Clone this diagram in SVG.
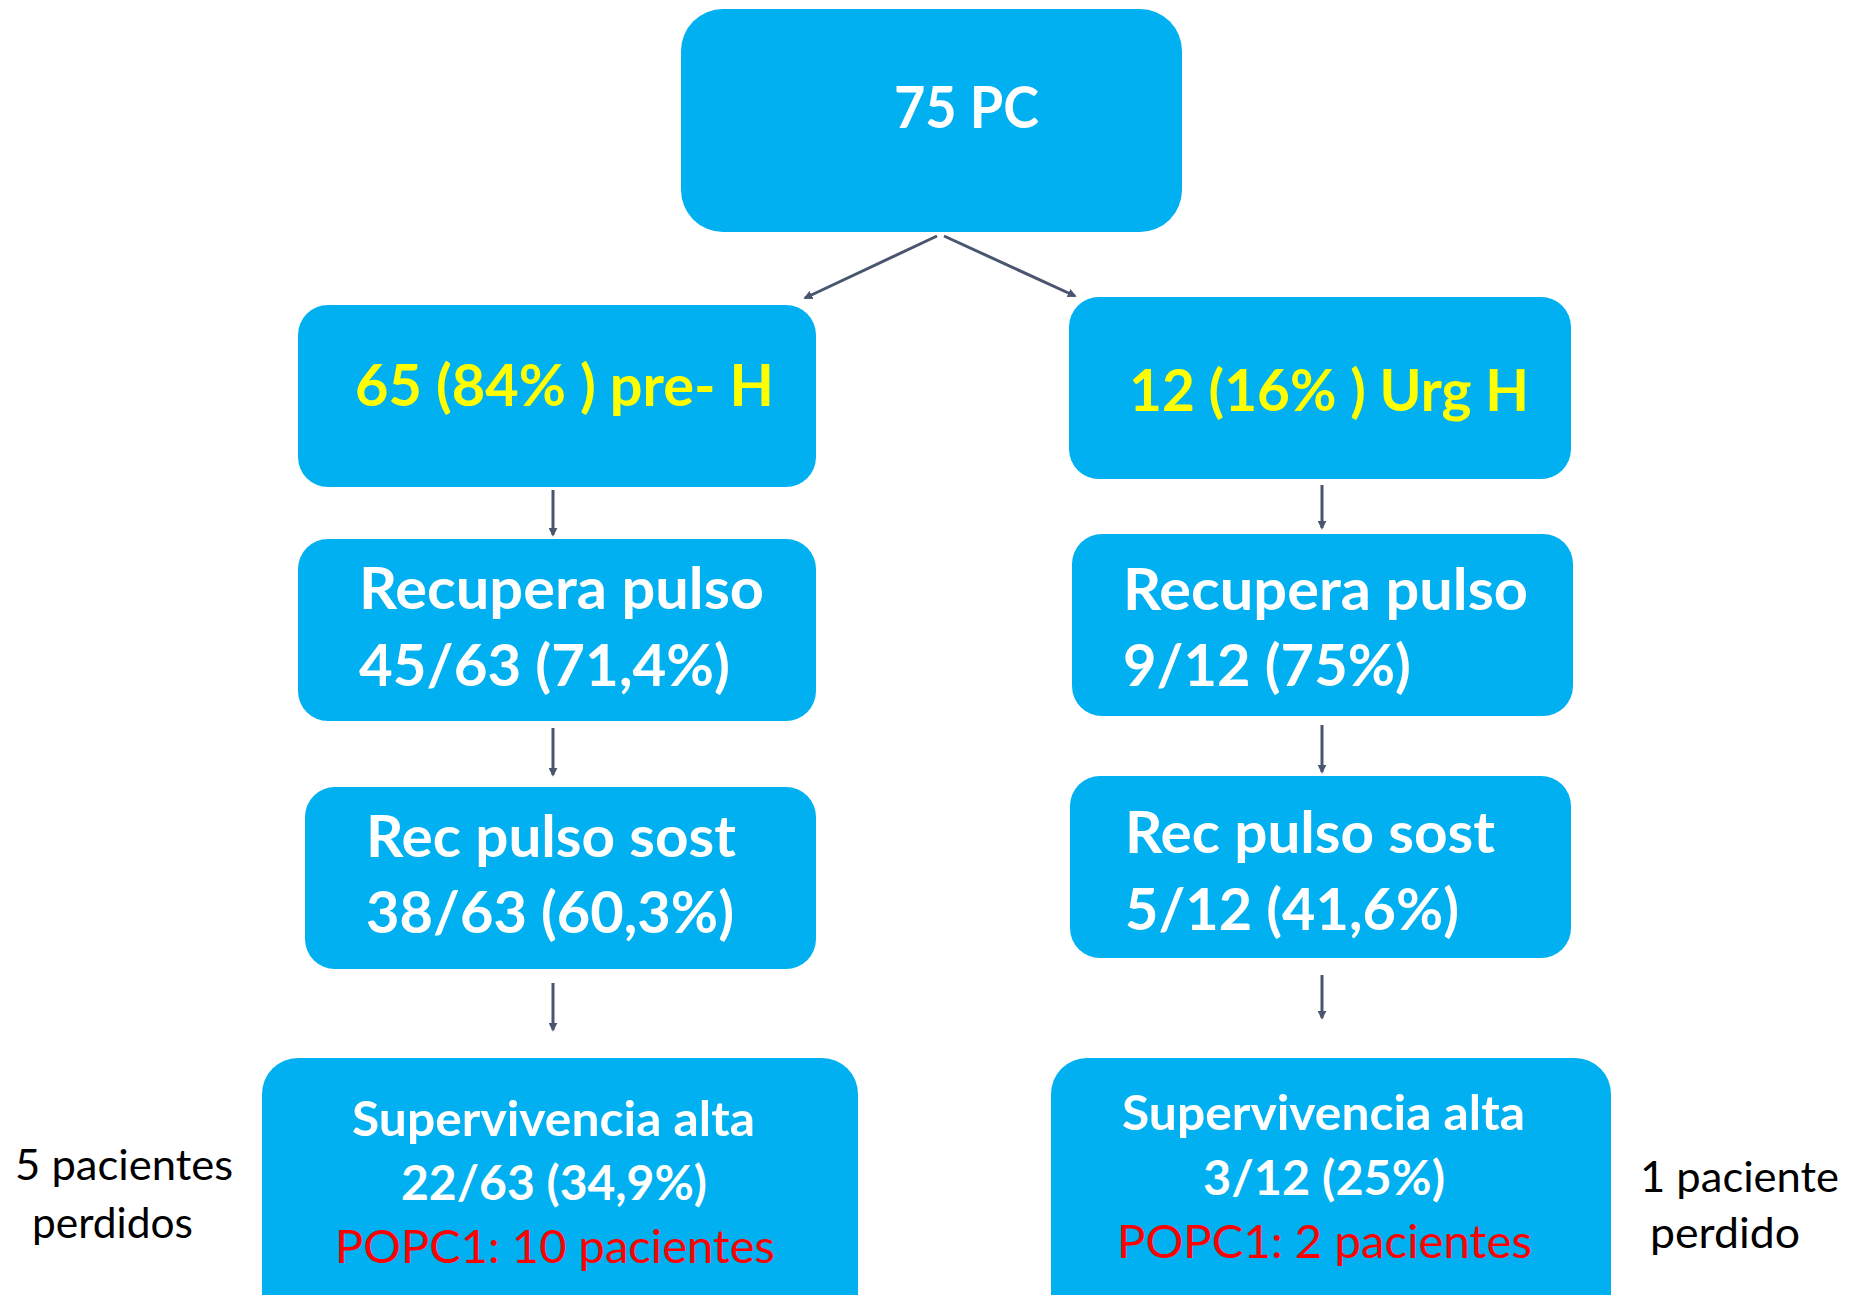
<svg xmlns="http://www.w3.org/2000/svg" width="1854" height="1295" viewBox="0 0 1854 1295">
<defs>
<style>
.box{fill:#00B0F0;}
.w{font-family:Lato,"Open Sans","Liberation Sans",sans-serif;font-weight:bold;fill:#FFFFFF;}
.y{font-family:Lato,"Open Sans","Liberation Sans",sans-serif;font-weight:bold;fill:#FFFF00;}
.r{font-family:Lato,"Open Sans","Liberation Sans",sans-serif;font-weight:normal;fill:#FF0000;}
.k{font-family:Lato,"Open Sans","Liberation Sans",sans-serif;font-weight:normal;fill:#000000;}
.c{stroke:#4A5670;stroke-width:3;fill:none;marker-end:url(#ah);}
</style>
<marker id="ah" viewBox="0 0 10 10" refX="8" refY="5" markerWidth="3" markerHeight="3" orient="auto" markerUnits="strokeWidth">
<path d="M0,0 L10,5 L0,10 z" fill="#4A5670"/>
</marker>
</defs>
<rect width="1854" height="1295" fill="#FFFFFF"/>
<g id="connectors">
<line class="c" x1="937" y1="236" x2="805" y2="298"/>
<line class="c" x1="944" y1="236" x2="1075" y2="296"/>
<line class="c" x1="553" y1="490" x2="553" y2="535"/>
<line class="c" x1="553" y1="728" x2="553" y2="775"/>
<line class="c" x1="553" y1="983" x2="553" y2="1030"/>
<line class="c" x1="1322" y1="485" x2="1322" y2="528"/>
<line class="c" x1="1322" y1="725" x2="1322" y2="772"/>
<line class="c" x1="1322" y1="975" x2="1322" y2="1018"/>
</g>
<g id="n-top">
<rect class="box" x="681" y="9" width="501" height="223" rx="42"/>
<text class="w" x="894" y="128" font-size="57" textLength="145" lengthAdjust="spacingAndGlyphs">75 PC</text>
</g>
<g id="n-preh">
<rect class="box" x="298" y="305" width="518" height="182" rx="30"/>
<text class="y" x="355" y="406" font-size="57" textLength="419" lengthAdjust="spacingAndGlyphs">65 (84% ) pre- H</text>
</g>
<g id="n-urgh">
<rect class="box" x="1069" y="297" width="502" height="182" rx="30"/>
<text class="y" x="1129" y="411" font-size="57" textLength="400" lengthAdjust="spacingAndGlyphs">12 (16% ) Urg H</text>
</g>
<g id="n-rec-l">
<rect class="box" x="298" y="539" width="518" height="182" rx="30"/>
<text class="w" x="359" y="609" font-size="57" textLength="405" lengthAdjust="spacingAndGlyphs">Recupera pulso</text>
<text class="w" x="359" y="686" font-size="57" textLength="371" lengthAdjust="spacingAndGlyphs">45/63 (71,4%)</text>
</g>
<g id="n-rec-r">
<rect class="box" x="1072" y="534" width="501" height="182" rx="30"/>
<text class="w" x="1123" y="610" font-size="57" textLength="405" lengthAdjust="spacingAndGlyphs">Recupera pulso</text>
<text class="w" x="1123" y="686" font-size="57" textLength="288" lengthAdjust="spacingAndGlyphs">9/12 (75%)</text>
</g>
<g id="n-sost-l">
<rect class="box" x="305" y="787" width="511" height="182" rx="30"/>
<text class="w" x="366" y="857" font-size="57" textLength="370" lengthAdjust="spacingAndGlyphs">Rec pulso sost</text>
<text class="w" x="366" y="933" font-size="57" textLength="368" lengthAdjust="spacingAndGlyphs">38/63 (60,3%)</text>
</g>
<g id="n-sost-r">
<rect class="box" x="1070" y="776" width="501" height="182" rx="30"/>
<text class="w" x="1125" y="853" font-size="57" textLength="370" lengthAdjust="spacingAndGlyphs">Rec pulso sost</text>
<text class="w" x="1125" y="930" font-size="57" textLength="334" lengthAdjust="spacingAndGlyphs">5/12 (41,6%)</text>
</g>
<g id="n-sup-l">
<rect class="box" x="262" y="1058" width="596" height="300" rx="36"/>
<text class="w" x="352" y="1136" font-size="47" textLength="403" lengthAdjust="spacingAndGlyphs">Supervivencia alta</text>
<text class="w" x="401" y="1200" font-size="47" textLength="306" lengthAdjust="spacingAndGlyphs">22/63 (34,9%)</text>
<text class="r" x="335" y="1263" font-size="47" textLength="440" lengthAdjust="spacingAndGlyphs">POPC1: 10 pacientes</text>
</g>
<g id="n-sup-r">
<rect class="box" x="1051" y="1058" width="560" height="300" rx="36"/>
<text class="w" x="1122" y="1130" font-size="47" textLength="403" lengthAdjust="spacingAndGlyphs">Supervivencia alta</text>
<text class="w" x="1203" y="1195" font-size="47" textLength="242" lengthAdjust="spacingAndGlyphs">3/12 (25%)</text>
<text class="r" x="1117" y="1258" font-size="47" textLength="415" lengthAdjust="spacingAndGlyphs">POPC1: 2 pacientes</text>
</g>
<g id="n-lost-l">
<text class="k" x="15" y="1180" font-size="42" textLength="218" lengthAdjust="spacingAndGlyphs">5 pacientes</text>
<text class="k" x="32" y="1238" font-size="42" textLength="161" lengthAdjust="spacingAndGlyphs">perdidos</text>
</g>
<g id="n-lost-r">
<text class="k" x="1640" y="1192" font-size="42" textLength="199" lengthAdjust="spacingAndGlyphs">1 paciente</text>
<text class="k" x="1650" y="1248" font-size="42" textLength="150" lengthAdjust="spacingAndGlyphs">perdido</text>
</g>
</svg>
